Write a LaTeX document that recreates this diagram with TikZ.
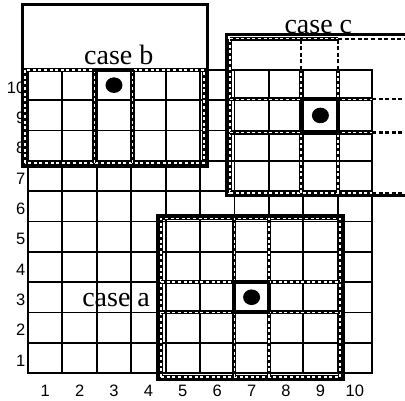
\documentclass[tikz,border=0pt]{standalone}
\usepackage{fontspec}
\setmainfont{Liberation Serif}
\newfontfamily\numfont{Liberation Sans}
\usetikzlibrary{calc}
\tikzset{
  gridline/.style={line width=1.8pt, black, line cap=rect},
  casebox/.style={line width=3pt, black},
  blkdash/.style={line width=4pt, black},
  whtdash/.style={line width=1.5pt, white, dash pattern=on 3pt off 2.6pt},
  plaindash/.style={line width=2.2pt, black, dash pattern=on 4pt off 2.6pt},
  centre/.style={line width=3.2pt, black},
  casetext/.style={font=\fontsize{28}{30}\selectfont, inner sep=0pt, anchor=base},
  numtext/.style={font=\numfont\fontsize{16.5}{17}\selectfont, inner sep=0pt},
}
\newcommand\dpath[1]{\draw[blkdash] #1; \draw[whtdash] #1;}
\begin{document}
\begin{tikzpicture}[x=34.4pt,y=30.3pt]
\useasboundingbox (-28pt,-27pt) rectangle (377pt,373pt);
\fill[white] (-28pt,-27pt) rectangle (377pt,373pt);
\clip (-28pt,-27pt) rectangle (377pt,373pt);
% grid
\foreach \i in {0,...,10} {
  \draw[gridline] (\i,0) -- (\i,10);
  \draw[gridline] (0,\i) -- (10,\i);
}
% numbers
\foreach \r in {1,...,10} {
  \node[numtext, anchor=east] (row\r) at ($(0,\r-0.5)+(-2.5pt,-2.5pt)$) {\r};
  \node[numtext] (col\r) at ($(\r-0.5,0)+(0,-18pt)$) {\r};
}
% ---------- case a : centre (7,3)
\draw[casebox] ($(4,0)+(-8pt,-6pt)$) rectangle ($(9,5)+(6pt,6pt)$);
\dpath{($(4,0)+(-4.5pt,-4pt)$) rectangle ($(9,5)+(2.5pt,3pt)$)}
\dpath{($(6,0)+(0,-4pt)$) -- ($(6,5)+(0,3pt)$)}
\dpath{($(7,0)+(0,-4pt)$) -- ($(7,5)+(0,3pt)$)}
\dpath{($(4,2)+(-4.5pt,0)$) -- ($(9,2)+(2.5pt,0)$)}
\dpath{($(4,3)+(-4.5pt,0)$) -- ($(9,3)+(2.5pt,0)$)}
\draw[centre] (6,2) rectangle (7,3);
\fill (6.5,2.5) ellipse [x radius=8.5pt, y radius=7.8pt];
\node[casetext] (la) at (2.56,2.18) {case a};
% ---------- case b : centre (3,10)
\draw[casebox] ($(0,7)+(-5.3pt,-6pt)$) rectangle ($(5,12)+(7pt,4.4pt)$);
\dpath{($(0,7)+(-3pt,-2pt)$) rectangle ($(5,10)+(4pt,0pt)$)}
\dpath{($(2,7)+(-2.5pt,-2pt)$) -- ($(2,10)+(-2.5pt,0)$)}
\dpath{($(3,7)+(1.5pt,-2pt)$) -- ($(3,10)+(1.5pt,0)$)}
\draw[centre] ($(2,10)+(-2.5pt,0)$) -- ($(3,10)+(1.5pt,0)$);
\fill (2.5,9.5) ellipse [x radius=8.5pt, y radius=7.8pt];
\node[casetext] (lb) at (2.64,10.17) {case b};
% ---------- case c : centre (9,9)
\draw[casebox] ($(6,6)+(-8pt,-4pt)$) rectangle ($(11,11)+(8pt,4.7pt)$);
% left frame side
\dpath{($(6,6)+(-4.5pt,-2pt)$) -- ($(6,11)+(-4.5pt,1pt)$)}
% top frame side
\dpath{($(6,11)+(-4.5pt,1pt)$) -- ($(9,11)+(0.4pt,1pt)$)}
\draw[plaindash] ($(9,11)+(0.4pt,1pt)$) -- ($(11,11)+(8pt,1pt)$);
% bottom frame side
\dpath{($(6,6)+(-4.5pt,-2pt)$) -- ($(10,6)+(0,-2pt)$)}
\draw[plaindash] ($(10,6)+(0,-2pt)$) -- ($(11,6)+(8pt,-2pt)$);
% inner verticals
\dpath{($(8,6)+(-2pt,-2pt)$) -- ($(8,10)+(-2pt,0)$)}
\draw[plaindash] ($(8,10)+(-2pt,0)$) -- ($(8,11)+(-2pt,1pt)$);
\dpath{($(9,6)+(0.4pt,-2pt)$) -- ($(9,10)+(0.4pt,0)$)}
\draw[plaindash] ($(9,10)+(0.4pt,0)$) -- ($(9,11)+(0.4pt,1pt)$);
% inner horizontals
\dpath{($(6,8)+(-4.5pt,-2pt)$) -- ($(10,8)+(0,-2pt)$)}
\draw[plaindash] ($(10,8)+(0,-2pt)$) -- ($(11,8)+(8pt,-2pt)$);
\dpath{($(6,9)+(-4.5pt,1pt)$) -- ($(10,9)+(0,1pt)$)}
\draw[plaindash] ($(10,9)+(0,1pt)$) -- ($(11,9)+(8pt,1pt)$);
\draw[centre] ($(8,8)+(-2pt,-2pt)$) rectangle ($(9,9)+(0.4pt,1pt)$);
\fill (8.5,8.5) ellipse [x radius=8.5pt, y radius=7.8pt];
\node[casetext] (lc) at (8.44,11.22) {case c};
\end{tikzpicture}
\end{document}
